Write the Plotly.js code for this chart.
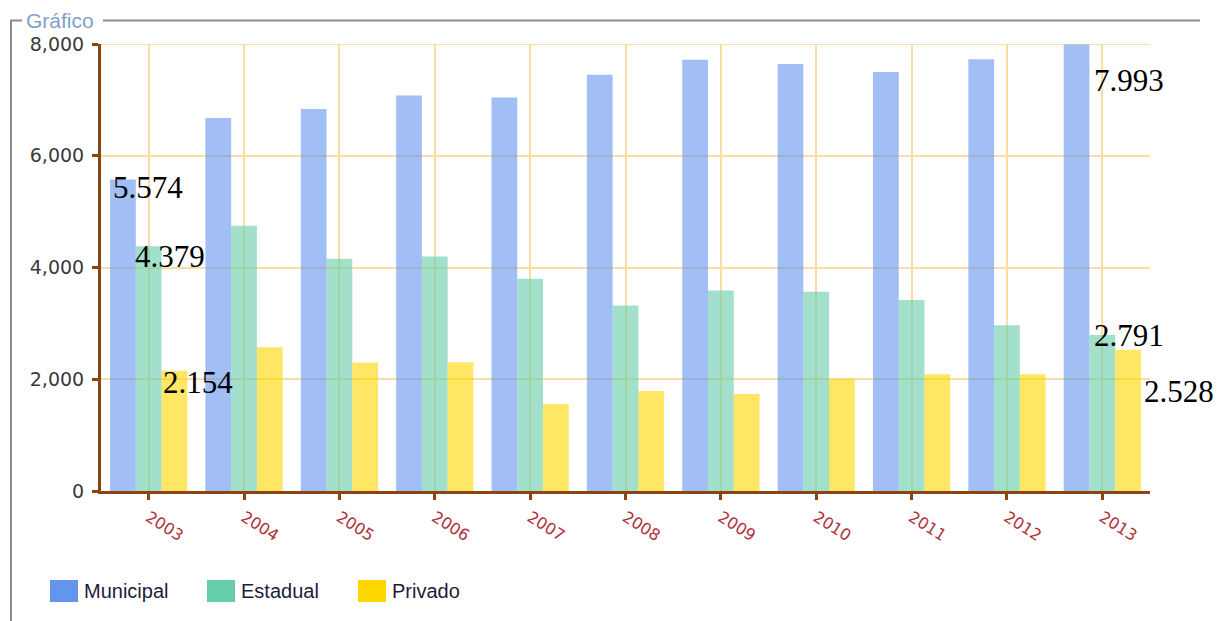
<!DOCTYPE html>
<html>
<head>
<meta charset="utf-8">
<script src="https://cdn.plot.ly/plotly-3.0.1.min.js"></script>
<style>
  html, body { margin: 0; padding: 0; background: #ffffff; }
  #chart { width: 1217px; height: 621px; }
</style>
</head>
<body>
<div id="chart"></div>
<script>
// ---- data ----
const years = ['2003','2004','2005','2006','2007','2008','2009','2010','2011','2012','2013'];
const municipal = [5574, 6674, 6836, 7079, 7044, 7450, 7719, 7641, 7498, 7725, 7993];
const estadual  = [4379, 4746, 4155, 4196, 3797, 3318, 3587, 3564, 3420, 2967, 2791];
const privado   = [2154, 2573, 2298, 2305, 1558, 1791, 1737, 2006, 2090, 2090, 2528];
const seriesNames = ['Municipal', 'Estadual', 'Privado'];
const yTicks = [0, 2000, 4000, 6000, 8000];
// which values carry a printed label: [series index, year index]
const labelled = [[0,0],[1,0],[2,0],[0,10],[1,10],[2,10]];

// ---- styling ----
const swatch = ['#6495ED', '#66CDAA', '#FFD700'];
const labelShift = [[-37,-8],[-15,-10],[13,-12],[-9,-36],[-9,0],[41,-42]];

const seriesData = [municipal, estadual, privado];
function fmt(v){ return Math.floor(v/1000) + '.' + String(v%1000).padStart(3,'0'); }

// plot area in pixels
const L = 101, R = 1150, T = 44, B = 491, W = 1217, H = 621;
function px(x){ return (x - L) / (R - L); }
function py(y){ return (B - y) / (B - T); }

const traces = seriesData.map((vals, i) => ({
  type: 'bar', name: seriesNames[i], x: years, y: vals,
  marker: { color: swatch[i] }, opacity: 0.6, showlegend: false,
  hoverinfo: 'skip'
}));

const annotations = labelled.map(([s, k], j) => ({
  xref: 'x', yref: 'y', x: k, y: seriesData[s][k],
  text: fmt(seriesData[s][k]), showarrow: false,
  xanchor: 'left', yanchor: 'middle',
  xshift: labelShift[j][0], yshift: labelShift[j][1],
  borderpad: 0,
  font: { family: '"Liberation Serif", "Times New Roman", serif', size: 31, color: '#000000' }
}));

const axisBrown = '#8B4513';
const gridColor = '#f7dfa3';

const shapes = [];
// top gridline (at the range edge, which Plotly does not draw)
shapes.push({ type: 'line', xref: 'paper', yref: 'y', x0: 0, x1: 1,
  y0: yTicks[yTicks.length - 1], y1: yTicks[yTicks.length - 1],
  line: { color: gridColor, width: 2 }, layer: 'below' });
// fieldset frame
const frameColor = '#8c8c8c';
shapes.push({ type: 'line', xref: 'paper', yref: 'paper', x0: px(11), x1: px(11), y0: py(20), y1: py(640), line: { color: frameColor, width: 2 } });
shapes.push({ type: 'line', xref: 'paper', yref: 'paper', x0: px(10), x1: px(22), y0: py(20.5), y1: py(20.5), line: { color: frameColor, width: 2 } });
shapes.push({ type: 'line', xref: 'paper', yref: 'paper', x0: px(103), x1: px(1200), y0: py(20.5), y1: py(20.5), line: { color: frameColor, width: 2 } });
annotations.push({
  xref: 'paper', yref: 'paper', x: px(25), y: py(21), xanchor: 'left', yanchor: 'middle',
  text: 'Gráfico', showarrow: false, borderpad: 0,
  font: { family: '"Liberation Sans", Arial, sans-serif', size: 21, color: '#7f9fcb' }
});

// custom legend
const legX = [50, 207, 358];
seriesNames.forEach((n, i) => {
  shapes.push({ type: 'rect', xref: 'paper', yref: 'paper',
    x0: px(legX[i]), x1: px(legX[i] + 28), y0: py(580), y1: py(602),
    fillcolor: swatch[i], line: { width: 0 } });
  annotations.push({ xref: 'paper', yref: 'paper', x: px(legX[i] + 33), y: py(591),
    xanchor: 'left', yanchor: 'middle', text: n, showarrow: false, borderpad: 0,
    font: { family: '"Liberation Sans", Arial, sans-serif', size: 20, color: '#1c1c3a' } });
});

const layout = {
  width: W, height: H,
  margin: { l: L, r: W - R, t: T, b: H - B, pad: 0 },
  paper_bgcolor: 'rgba(0,0,0,0)', plot_bgcolor: 'rgba(0,0,0,0)',
  barmode: 'group', bargap: 0.19, bargroupgap: 0,
  showlegend: false,
  hovermode: false,
  xaxis: {
    type: 'category', range: [-0.5, years.length - 0.5], autorange: false,
    showgrid: true, gridcolor: gridColor, gridwidth: 2,
    showline: true, linecolor: axisBrown, linewidth: 3,
    ticks: 'outside', ticklen: 6, tickwidth: 3, tickcolor: axisBrown,
    tickangle: 32, ticklabelstandoff: 2,
    tickfont: { family: '"DejaVu Sans", Verdana, sans-serif', size: 16, color: '#b0303a' },
    zeroline: false, fixedrange: true
  },
  yaxis: {
    range: [0, 8000], autorange: false, tickvals: yTicks, tickformat: ',',
    showgrid: true, gridcolor: gridColor, gridwidth: 2,
    showline: true, linecolor: axisBrown, linewidth: 3,
    ticks: 'outside', ticklen: 6, tickwidth: 3, tickcolor: axisBrown,
    ticklabelstandoff: 4,
    tickfont: { family: '"DejaVu Sans", Verdana, sans-serif', size: 19, color: '#3a3a3a' },
    zeroline: false, fixedrange: true
  },
  shapes: shapes,
  annotations: annotations
};

Plotly.newPlot('chart', traces, layout, { staticPlot: true, displayModeBar: false });
</script>
</body>
</html>
